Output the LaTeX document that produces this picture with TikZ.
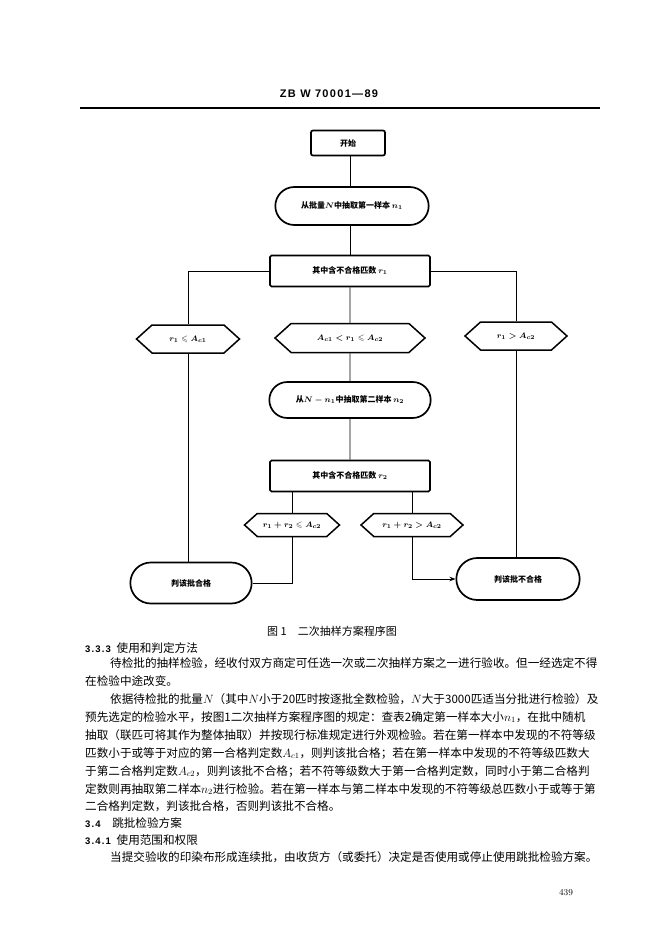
\documentclass[tikz,border=0pt]{standalone}
\usepackage{amssymb}
\usepackage{fontspec}
\newfontfamily\cjk{Noto Sans CJK SC}
\newfontfamily\hdrfont[LetterSpace=12]{Liberation Sans}
\usetikzlibrary{shapes.misc,shapes.symbols,arrows.meta}
\XeTeXlinebreaklocale "zh"
\XeTeXlinebreakskip=0pt plus 3pt
\newcommand\jline[2]{\hbox to #1{#2}}
\tikzset{
  fcfont/.style={font=\cjk\bfseries\boldmath\fontsize{8}{9}\selectfont},
  startbox/.style={draw, line width=1.7pt, rounded corners=2pt, fcfont, minimum width=74pt, minimum height=25pt},
  stadium/.style={draw, line width=1.7pt, rounded rectangle, fcfont},
  rectbox/.style={draw, line width=1.7pt, rounded corners=1.5pt, fcfont},
  hexbox/.style={draw, line width=1.5pt, signal, signal to=west and east, signal pointer angle=84, inner sep=1pt, font=\bfseries\boldmath\fontsize{8.5}{10}\selectfont},
  conn/.style={draw, line width=0.9pt},
  body/.style={anchor=base west, inner sep=0pt, font=\cjk\fontsize{11.6}{12}\selectfont},
  secnum/.style={font=\hdrfont\bfseries\fontsize{9.5}{11}\selectfont}
}
\begin{document}
\begin{tikzpicture}[x=1pt,y=-1pt]
\useasboundingbox[fill=white] (0,0) rectangle (662,936);

% header
\node[font=\hdrfont\bfseries\fontsize{11}{12}\selectfont, inner sep=0pt] (hdr) at (329,94) {ZB W 70001—89};
\draw[line width=1.3pt] (80,108) -- (600,108);

% flowchart nodes
\node[startbox] (start) at (348,143) {开始};
\node[stadium, minimum width=160pt, minimum height=38pt] (s1) at (352,206) {从批量$N$中抽取第一样本 $n_1$};
\node[rectbox, minimum width=160pt, minimum height=31pt] (r1) at (350,271) {其中含不合格匹数 $r_1$};
\node[hexbox, minimum width=103pt, minimum height=28pt] (h1) at (188,339) {$r_1\leqslant A_{c1}$};
\node[hexbox, minimum width=150pt, minimum height=29pt] (h2) at (350,338) {$A_{c1}<r_1\leqslant A_{c2}$};
\node[hexbox, minimum width=102pt, minimum height=28pt] (h3) at (516,336) {$r_1>A_{c2}$};
\node[stadium, minimum width=168pt, minimum height=36pt] (s2) at (350,400) {从$N-n_1$中抽取第二样本 $n_2$};
\node[rectbox, minimum width=160pt, minimum height=31pt] (r2) at (350,476) {其中含不合格匹数 $r_2$};
\node[hexbox, minimum width=95pt, minimum height=23pt] (h4) at (292,525) {$r_1+r_2\leqslant A_{c2}$};
\node[hexbox, minimum width=102pt, minimum height=23pt] (h5) at (412,525) {$r_1+r_2>A_{c2}$};
\node[stadium, minimum width=128pt, minimum height=41pt] (acc) at (191,583) {判该批合格};
\node[stadium, minimum width=130pt, minimum height=42pt] (rej) at (518,579) {判该批不合格};

% connectors
\draw[conn] (start.south -| r1.north) -- (s1.north -| r1.north);
\draw[conn] (s1.south -| r1.north) -- (r1.north);
\draw[conn] (r1) -- (h2);
\draw[conn] (h2) -- (s2);
\draw[conn] (s2) -- (r2);
\draw[conn] (r1.west) -| (h1.north);
\draw[conn] (r1.east) -| (h3.north);
\draw[conn] (h1.south) -- (h1.south |- acc.north);
\draw[conn] (r2.south -| h4.north) -- (h4.north);
\draw[conn] (r2.south -| h5.north) -- (h5.north);
\draw[conn] (h4.south) |- (acc.east);
\draw[conn, -{Stealth[length=6pt,width=4.5pt]}] (h5.south) |- (rej.west);
\draw[conn] (h3.south) -- (h3.south |- rej.north);

% caption
\node[font=\cjk\fontsize{11}{12}\selectfont, inner sep=0pt] (cap) at (332,631) {图 1\quad 二次抽样方案程序图};

% body text
\node[body] (l1) at (85,652) {{\hdrfont\bfseries\fontsize{9.5}{11}\selectfont 3.3.3}\enspace 使用和判定方法};
\node[body] (l2) at (110,667) {\jline{500pt}{待检批的抽样检验，经收付双方商定可任选一次或二次抽样方案之一进行验收。但一经选定不得}};
\node[body] (l3) at (85,685) {在检验中途改变。};
\node[body] (l4) at (110,703) {\jline{500pt}{依据待检批的批量$N$（其中$N$小于20匹时按逐批全数检验，$N$大于3000匹适当分批进行检验）及}};
\node[body] (l5) at (85,721) {\jline{525pt}{预先选定的检验水平，按图1二次抽样方案程序图的规定：查表2确定第一样本大小$n_1$，在批中随机}};
\node[body] (l6) at (85,739) {\jline{525pt}{抽取（联匹可将其作为整体抽取）并按现行标准规定进行外观检验。若在第一样本中发现的不符等级}};
\node[body] (l7) at (85,757) {\jline{525pt}{匹数小于或等于对应的第一合格判定数$A_{c1}$，则判该批合格；若在第一样本中发现的不符等级匹数大}};
\node[body] (l8) at (85,775) {\jline{525pt}{于第二合格判定数$A_{c2}$，则判该批不合格；若不符等级数大于第一合格判定数，同时小于第二合格判}};
\node[body] (l9) at (85,793) {\jline{525pt}{定数则再抽取第二样本$n_2$进行检验。若在第一样本与第二样本中发现的不符等级总匹数小于或等于第}};
\node[body] (l10) at (85,810) {二合格判定数，判该批合格，否则判该批不合格。};
\node[body] (l11) at (85,827) {{\hdrfont\bfseries\fontsize{9.5}{11}\selectfont 3.4}\quad 跳批检验方案};
\node[body] (l12) at (85,844) {{\hdrfont\bfseries\fontsize{9.5}{11}\selectfont 3.4.1}\enspace 使用范围和权限};
\node[body] (l13) at (110,861) {当提交验收的印染布形成连续批，由收货方（或委托）决定是否使用或停止使用跳批检验方案。};
\node[font=\fontsize{9}{10}\selectfont, inner sep=0pt] (pg) at (566,893) {439};
\end{tikzpicture}
\end{document}
